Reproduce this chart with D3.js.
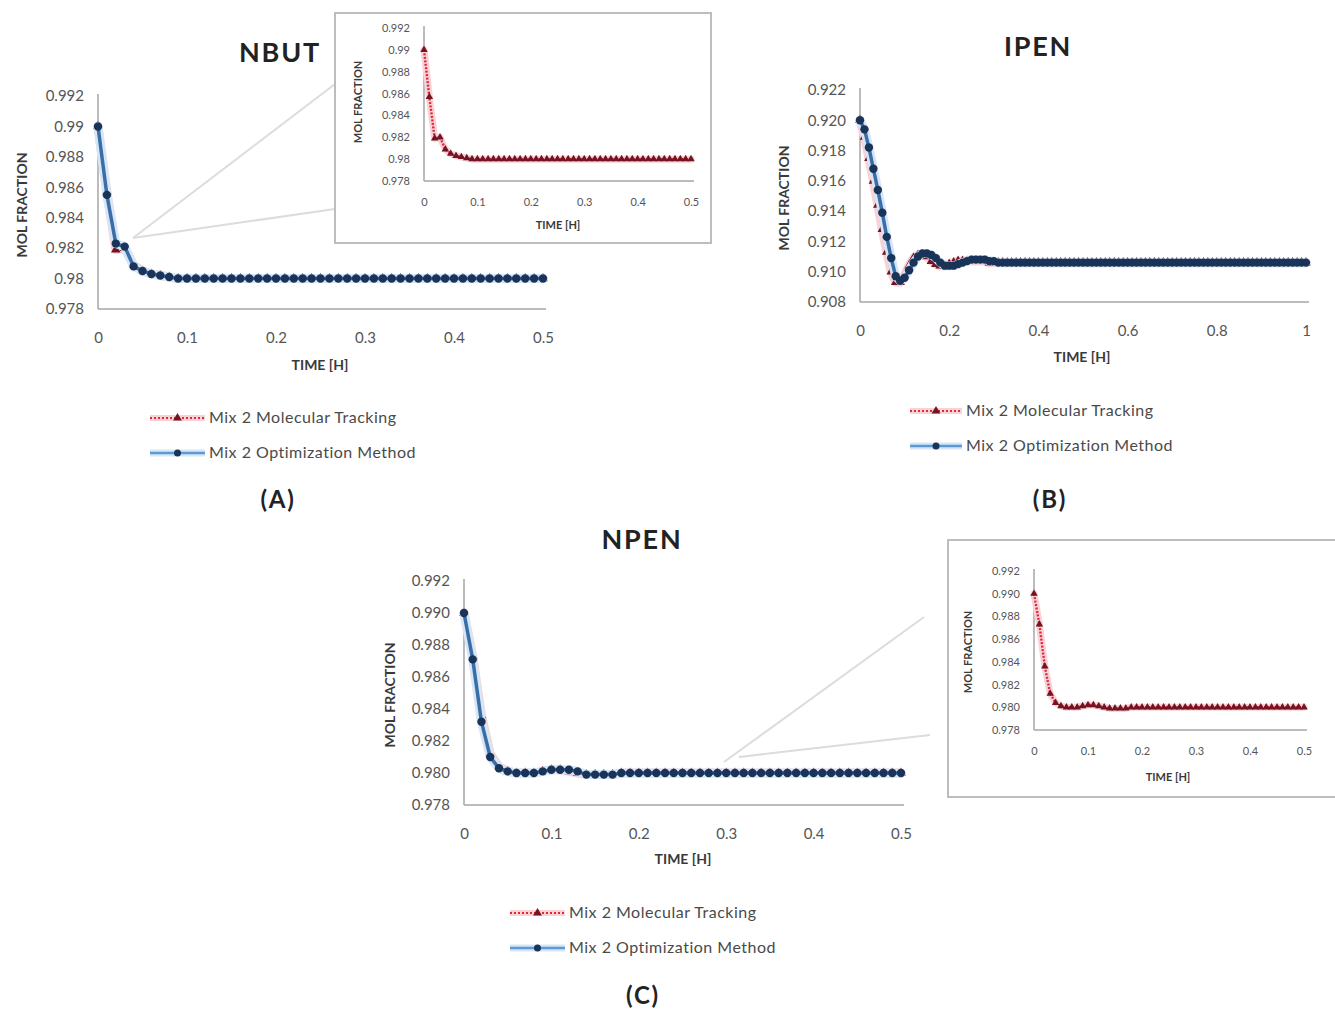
<!DOCTYPE html>
<html>
<head>
<meta charset="utf-8">
<script src="https://cdn.jsdelivr.net/npm/d3@7"></script>
<style>
  body { margin: 0; background: #fff; }
  svg { display: block; }
</style>
</head>
<body>
<div id="chart"></div>
<script>
/* Sample times (hours) */
var timesHalf = [0, 0.01, 0.02, 0.03, 0.04, 0.05, 0.06, 0.07, 0.08, 0.09,
  0.10, 0.11, 0.12, 0.13, 0.14, 0.15, 0.16, 0.17, 0.18, 0.19,
  0.20, 0.21, 0.22, 0.23, 0.24, 0.25, 0.26, 0.27, 0.28, 0.29,
  0.30, 0.31, 0.32, 0.33, 0.34, 0.35, 0.36, 0.37, 0.38, 0.39,
  0.40, 0.41, 0.42, 0.43, 0.44, 0.45, 0.46, 0.47, 0.48, 0.49, 0.50];

var timesOne = [0, 0.01, 0.02, 0.03, 0.04, 0.05, 0.06, 0.07, 0.08, 0.09,
  0.10, 0.11, 0.12, 0.13, 0.14, 0.15, 0.16, 0.17, 0.18, 0.19,
  0.20, 0.21, 0.22, 0.23, 0.24, 0.25, 0.26, 0.27, 0.28, 0.29,
  0.30, 0.31, 0.32, 0.33, 0.34, 0.35, 0.36, 0.37, 0.38, 0.39,
  0.40, 0.41, 0.42, 0.43, 0.44, 0.45, 0.46, 0.47, 0.48, 0.49,
  0.50, 0.51, 0.52, 0.53, 0.54, 0.55, 0.56, 0.57, 0.58, 0.59,
  0.60, 0.61, 0.62, 0.63, 0.64, 0.65, 0.66, 0.67, 0.68, 0.69,
  0.70, 0.71, 0.72, 0.73, 0.74, 0.75, 0.76, 0.77, 0.78, 0.79,
  0.80, 0.81, 0.82, 0.83, 0.84, 0.85, 0.86, 0.87, 0.88, 0.89,
  0.90, 0.91, 0.92, 0.93, 0.94, 0.95, 0.96, 0.97, 0.98, 0.99, 1.00];

/* NBUT - mol fraction */
var nbutTracking = [0.9900, 0.9857, 0.9819, 0.9820, 0.9809, 0.9805, 0.9803, 0.9802, 0.9801, 0.9800,
  0.9800, 0.9800, 0.9800, 0.9800, 0.9800, 0.9800, 0.9800, 0.9800, 0.9800, 0.9800,
  0.9800, 0.9800, 0.9800, 0.9800, 0.9800, 0.9800, 0.9800, 0.9800, 0.9800, 0.9800,
  0.9800, 0.9800, 0.9800, 0.9800, 0.9800, 0.9800, 0.9800, 0.9800, 0.9800, 0.9800,
  0.9800, 0.9800, 0.9800, 0.9800, 0.9800, 0.9800, 0.9800, 0.9800, 0.9800, 0.9800, 0.9800];
var nbutOptimization = [0.9900, 0.9855, 0.9823, 0.9821, 0.9808, 0.9805, 0.9803, 0.9802, 0.9801, 0.9800,
  0.9800, 0.9800, 0.9800, 0.9800, 0.9800, 0.9800, 0.9800, 0.9800, 0.9800, 0.9800,
  0.9800, 0.9800, 0.9800, 0.9800, 0.9800, 0.9800, 0.9800, 0.9800, 0.9800, 0.9800,
  0.9800, 0.9800, 0.9800, 0.9800, 0.9800, 0.9800, 0.9800, 0.9800, 0.9800, 0.9800,
  0.9800, 0.9800, 0.9800, 0.9800, 0.9800, 0.9800, 0.9800, 0.9800, 0.9800, 0.9800, 0.9800];

/* IPEN - mol fraction */
var ipenTracking = [0.9200, 0.9189, 0.9175, 0.9160, 0.9144, 0.9128, 0.9113, 0.9100, 0.9093, 0.9093,
  0.9098, 0.9104, 0.9109, 0.9111, 0.9111, 0.9110, 0.9107, 0.9105, 0.9104, 0.9104,
  0.9105, 0.9106, 0.9107, 0.9107, 0.9107, 0.9107, 0.9107, 0.9107, 0.9107, 0.9106,
  0.9106, 0.9106, 0.9106, 0.9106, 0.9106, 0.9106, 0.9106, 0.9106, 0.9106, 0.9106,
  0.9106, 0.9106, 0.9106, 0.9106, 0.9106, 0.9106, 0.9106, 0.9106, 0.9106, 0.9106,
  0.9106, 0.9106, 0.9106, 0.9106, 0.9106, 0.9106, 0.9106, 0.9106, 0.9106, 0.9106,
  0.9106, 0.9106, 0.9106, 0.9106, 0.9106, 0.9106, 0.9106, 0.9106, 0.9106, 0.9106,
  0.9106, 0.9106, 0.9106, 0.9106, 0.9106, 0.9106, 0.9106, 0.9106, 0.9106, 0.9106,
  0.9106, 0.9106, 0.9106, 0.9106, 0.9106, 0.9106, 0.9106, 0.9106, 0.9106, 0.9106,
  0.9106, 0.9106, 0.9106, 0.9106, 0.9106, 0.9106, 0.9106, 0.9106, 0.9106, 0.9106, 0.9106];
var ipenOptimization = [0.9200, 0.9194, 0.9182, 0.9168, 0.9154, 0.9139, 0.9123, 0.9109, 0.9097, 0.9094,
  0.9096, 0.9101, 0.9106, 0.9110, 0.9112, 0.9112, 0.9111, 0.9109, 0.9106, 0.9104,
  0.9104, 0.9104, 0.9105, 0.9106, 0.9107, 0.9108, 0.9108, 0.9108, 0.9108, 0.9107,
  0.9107, 0.9106, 0.9106, 0.9106, 0.9106, 0.9106, 0.9106, 0.9106, 0.9106, 0.9106,
  0.9106, 0.9106, 0.9106, 0.9106, 0.9106, 0.9106, 0.9106, 0.9106, 0.9106, 0.9106,
  0.9106, 0.9106, 0.9106, 0.9106, 0.9106, 0.9106, 0.9106, 0.9106, 0.9106, 0.9106,
  0.9106, 0.9106, 0.9106, 0.9106, 0.9106, 0.9106, 0.9106, 0.9106, 0.9106, 0.9106,
  0.9106, 0.9106, 0.9106, 0.9106, 0.9106, 0.9106, 0.9106, 0.9106, 0.9106, 0.9106,
  0.9106, 0.9106, 0.9106, 0.9106, 0.9106, 0.9106, 0.9106, 0.9106, 0.9106, 0.9106,
  0.9106, 0.9106, 0.9106, 0.9106, 0.9106, 0.9106, 0.9106, 0.9106, 0.9106, 0.9106, 0.9106];

/* NPEN - mol fraction */
var npenTracking = [0.9900, 0.9873, 0.9836, 0.9812, 0.9804, 0.9801, 0.9800, 0.9800, 0.9800, 0.9801,
  0.9802, 0.9802, 0.9801, 0.9800, 0.9799, 0.9799, 0.9799, 0.9799, 0.9800, 0.9800,
  0.9800, 0.9800, 0.9800, 0.9800, 0.9800, 0.9800, 0.9800, 0.9800, 0.9800, 0.9800,
  0.9800, 0.9800, 0.9800, 0.9800, 0.9800, 0.9800, 0.9800, 0.9800, 0.9800, 0.9800,
  0.9800, 0.9800, 0.9800, 0.9800, 0.9800, 0.9800, 0.9800, 0.9800, 0.9800, 0.9800, 0.9800];
var npenOptimization = [0.9900, 0.9871, 0.9832, 0.9810, 0.9803, 0.9801, 0.9800, 0.9800, 0.9800, 0.9801,
  0.9802, 0.9802, 0.9802, 0.9801, 0.9799, 0.9799, 0.9799, 0.9799, 0.9800, 0.9800,
  0.9800, 0.9800, 0.9800, 0.9800, 0.9800, 0.9800, 0.9800, 0.9800, 0.9800, 0.9800,
  0.9800, 0.9800, 0.9800, 0.9800, 0.9800, 0.9800, 0.9800, 0.9800, 0.9800, 0.9800,
  0.9800, 0.9800, 0.9800, 0.9800, 0.9800, 0.9800, 0.9800, 0.9800, 0.9800, 0.9800, 0.9800];

/* Tick values and labels */
var yTicksHigh = [0.978, 0.980, 0.982, 0.984, 0.986, 0.988, 0.990, 0.992];
var yLabelsNbut = ["0.978", "0.98", "0.982", "0.984", "0.986", "0.988", "0.99", "0.992"];
var yLabelsNpen = ["0.978", "0.980", "0.982", "0.984", "0.986", "0.988", "0.990", "0.992"];
var yTicksIpen = [0.908, 0.910, 0.912, 0.914, 0.916, 0.918, 0.920, 0.922];
var yLabelsIpen = ["0.908", "0.910", "0.912", "0.914", "0.916", "0.918", "0.920", "0.922"];
var xTicksHalf = [0, 0.1, 0.2, 0.3, 0.4, 0.5];
var xLabelsHalf = ["0", "0.1", "0.2", "0.3", "0.4", "0.5"];
var xTicksOne = [0, 0.2, 0.4, 0.6, 0.8, 1];
var xLabelsOne = ["0", "0.2", "0.4", "0.6", "0.8", "1"];

var seriesNames = ["Mix 2 Molecular Tracking", "Mix 2 Optimization Method"];

var config = {
    font: "Lato, 'Open Sans', sans-serif",
    colors: {
        axis: '#a6a6a6',
        tick: '#555',
        title: '#3a3a3a',
        blueLine: '#3a6ea8',
        legendBlue: '#5b9bd5',
        blueHalo: '#d6e6f5',
        blueDot: '#1a3358',
        redLine: '#e0283a',
        redHalo: '#f7d3d8',
        redDot: '#741322',
        zoomLine: '#dcdcdc',
        box: '#bdbdbd'
    }
};

var svg = d3.select('#chart').append('svg')
    .attr('width', 1335)
    .attr('height', 1010);

// one chart frame: axes, tick labels, axis titles, series
function drawPlot(p) {
    var x = d3.scaleLinear().domain(p.xDomain).range([p.left, p.right]);
    var y = d3.scaleLinear().domain(p.yDomain).range([p.bottom, p.top]);
    var g = svg.append('g');

    var xAxis = d3.axisBottom(x).tickValues(p.xTicks).tickSize(0).tickPadding(p.xPad)
        .tickFormat(function (d, i) { return p.xLabels[i]; });
    var yAxis = d3.axisLeft(y).tickValues(p.yTicks).tickSize(0).tickPadding(p.yPad)
        .tickFormat(function (d, i) { return p.yLabels[i]; });

    var gx = g.append('g').attr('transform', 'translate(0,' + p.bottom + ')').call(xAxis);
    var gy = g.append('g').attr('transform', 'translate(' + p.left + ',0)').call(yAxis);
    [gx, gy].forEach(function (a) {
        a.select('.domain').attr('stroke', config.colors.axis).attr('stroke-width', p.axisWidth);
        a.selectAll('text')
            .attr('font-family', config.font)
            .attr('font-size', p.tickSize)
            .attr('fill', config.colors.tick);
    });
    gx.select('.domain').attr('d', 'M' + p.left + ',0H' + (p.right + 3));
    gy.select('.domain').attr('d', 'M0,' + (p.top - 2) + 'V' + p.bottom);

    g.append('text')
        .attr('x', p.xTitle[0]).attr('y', p.xTitle[1])
        .attr('text-anchor', 'middle')
        .attr('font-family', config.font).attr('font-weight', 'bold')
        .attr('font-size', p.axisTitleSize)
        .attr('fill', config.colors.title)
        .text('TIME [H]');
    g.append('text')
        .attr('transform', 'translate(' + p.yTitle[0] + ',' + p.yTitle[1] + ') rotate(-90)')
        .attr('text-anchor', 'middle')
        .attr('font-family', config.font).attr('font-weight', 'bold')
        .attr('font-size', p.axisTitleSize)
        .attr('fill', config.colors.title)
        .text('MOL FRACTION');

    p.series.forEach(function (s) {
        var pts = s.values.map(function (v, i) { return [s.times[i], v]; });
        var line = d3.line().x(function (d) { return x(d[0]); }).y(function (d) { return y(d[1]); });
        // soft halo under each series, like the blurred original
        g.append('path')
            .datum(pts)
            .attr('d', line)
            .attr('fill', 'none')
            .attr('stroke', s.kind === 'red' ? config.colors.redHalo : config.colors.blueHalo)
            .attr('stroke-width', p.haloWidth)
            .attr('stroke-linejoin', 'round')
            .attr('stroke-linecap', 'round');
        var path = g.append('path')
            .datum(pts)
            .attr('d', line)
            .attr('fill', 'none');
        if (s.kind === 'red') {
            path.attr('stroke', config.colors.redLine)
                .attr('stroke-width', p.redWidth)
                .attr('stroke-dasharray', '2,1.5');
            g.selectAll(null).data(pts).enter().append('path')
                .attr('d', d3.symbol(d3.symbolTriangle).size(p.triSize))
                .attr('transform', function (d) { return 'translate(' + x(d[0]) + ',' + y(d[1]) + ')'; })
                .attr('fill', config.colors.redDot);
        } else {
            path.attr('stroke', config.colors.blueLine)
                .attr('stroke-width', p.blueWidth);
            g.selectAll(null).data(pts).enter().append('circle')
                .attr('cx', function (d) { return x(d[0]); })
                .attr('cy', function (d) { return y(d[1]); })
                .attr('r', p.dotR)
                .attr('fill', config.colors.blueDot);
        }
    });
}

function drawTitle(text, cx, cy, size) {
    svg.append('text')
        .attr('x', cx).attr('y', cy)
        .attr('text-anchor', 'middle')
        .attr('font-family', config.font).attr('font-weight', 'bold')
        .attr('font-size', size)
        .attr('letter-spacing', 1.8)
        .attr('fill', '#222')
        .text(text);
}

function drawLegend(x0, x1, y0, gap) {
    var g = svg.append('g');
    seriesNames.forEach(function (name, i) {
        var yy = y0 + i * gap;
        var mid = (x0 + x1) / 2;
        if (i === 0) {
            g.append('line').attr('x1', x0).attr('x2', x1).attr('y1', yy).attr('y2', yy)
                .attr('stroke', config.colors.redHalo).attr('stroke-width', 6);
            g.append('line').attr('x1', x0).attr('x2', x1).attr('y1', yy).attr('y2', yy)
                .attr('stroke', config.colors.redLine).attr('stroke-width', 2)
                .attr('stroke-dasharray', '2,2');
            g.append('path')
                .attr('d', d3.symbol(d3.symbolTriangle).size(34))
                .attr('transform', 'translate(' + mid + ',' + yy + ')')
                .attr('fill', config.colors.redDot);
        } else {
            g.append('line').attr('x1', x0).attr('x2', x1).attr('y1', yy).attr('y2', yy)
                .attr('stroke', config.colors.blueHalo).attr('stroke-width', 7);
            g.append('line').attr('x1', x0).attr('x2', x1).attr('y1', yy).attr('y2', yy)
                .attr('stroke', config.colors.legendBlue).attr('stroke-width', 2.5);
            g.append('circle').attr('cx', mid).attr('cy', yy).attr('r', 3.5)
                .attr('fill', config.colors.blueDot);
        }
        g.append('text')
            .attr('x', x1 + 4).attr('y', yy + 5)
            .attr('font-family', config.font)
            .attr('font-size', 16)
            .attr('letter-spacing', 0.5)
            .attr('fill', '#4a4a4a')
            .text(name);
    });
}

function drawZoomLines(from, toA, toB) {
    [toA, toB].forEach(function (t, i) {
        svg.append('line')
            .attr('x1', from[i][0]).attr('y1', from[i][1])
            .attr('x2', t[0]).attr('y2', t[1])
            .attr('stroke', config.colors.zoomLine).attr('stroke-width', 2);
    });
}

function drawBox(x, y, w, h) {
    svg.append('rect')
        .attr('x', x).attr('y', y).attr('width', w).attr('height', h)
        .attr('fill', '#fff')
        .attr('stroke', config.colors.box).attr('stroke-width', 2);
}

var mainStyle = {
    tickSize: 15, axisTitleSize: 14, axisWidth: 1.5,
    xPad: 23, yPad: 14,
    haloWidth: 9, blueWidth: 3.5, dotR: 4.2, redWidth: 2.2, triSize: 40
};
var insetStyle = {
    tickSize: 11, axisTitleSize: 11, axisWidth: 1.5,
    xPad: 17, yPad: 14,
    haloWidth: 7, blueWidth: 2, dotR: 2.6, redWidth: 2.4, triSize: 24
};

// ---- (A) NBUT ----
drawZoomLines([[133, 238], [133, 238]], [335, 84], [335, 209]);
drawTitle('NBUT', 280, 62, 27);
drawPlot(Object.assign({}, mainStyle, {
    left: 98, right: 543, top: 96, bottom: 309,
    xDomain: [0, 0.5], yDomain: [0.978, 0.992],
    xTicks: xTicksHalf, xLabels: xLabelsHalf,
    yTicks: yTicksHigh, yLabels: yLabelsNbut,
    xTitle: [320, 370], yTitle: [27, 205],
    series: [
        { kind: 'red', times: timesHalf, values: nbutTracking },
        { kind: 'blue', times: timesHalf, values: nbutOptimization }
    ]
}));
drawBox(335, 13, 376, 230);
drawPlot(Object.assign({}, insetStyle, {
    left: 424, right: 691, top: 28, bottom: 181,
    xDomain: [0, 0.5], yDomain: [0.978, 0.992],
    xTicks: xTicksHalf, xLabels: xLabelsHalf,
    yTicks: yTicksHigh, yLabels: yLabelsNbut,
    xTitle: [558, 229], yTitle: [362, 102],
    series: [{ kind: 'red', times: timesHalf, values: nbutTracking }]
}));
drawLegend(150, 205, 418, 35);
drawTitle('(A)', 278, 508, 24);

// ---- (B) IPEN ----
drawTitle('IPEN', 1038, 56, 27);
drawPlot(Object.assign({}, mainStyle, {
    left: 860, right: 1306, top: 90, bottom: 302,
    xDomain: [0, 1], yDomain: [0.908, 0.922],
    xTicks: xTicksOne, xLabels: xLabelsOne,
    yTicks: yTicksIpen, yLabels: yLabelsIpen,
    xTitle: [1082, 362], yTitle: [789, 198],
    series: [
        { kind: 'red', times: timesOne, values: ipenTracking },
        { kind: 'blue', times: timesOne, values: ipenOptimization }
    ]
}));
drawLegend(910, 962, 411, 35);
drawTitle('(B)', 1050, 508, 24);

// ---- (C) NPEN ----
drawZoomLines([[724, 762], [739, 757]], [924, 617], [930, 735]);
drawTitle('NPEN', 642, 549, 27);
drawPlot(Object.assign({}, mainStyle, {
    left: 464, right: 901, top: 581, bottom: 805,
    xDomain: [0, 0.5], yDomain: [0.978, 0.992],
    xTicks: xTicksHalf, xLabels: xLabelsHalf,
    yTicks: yTicksHigh, yLabels: yLabelsNpen,
    xTitle: [683, 864], yTitle: [395, 695],
    series: [
        { kind: 'red', times: timesHalf, values: npenTracking },
        { kind: 'blue', times: timesHalf, values: npenOptimization }
    ]
}));
drawBox(948, 540, 400, 257);
drawPlot(Object.assign({}, insetStyle, {
    left: 1034, right: 1304, top: 571, bottom: 730,
    xDomain: [0, 0.5], yDomain: [0.978, 0.992],
    xTicks: xTicksHalf, xLabels: xLabelsHalf,
    yTicks: yTicksHigh, yLabels: yLabelsNpen,
    xTitle: [1168, 781], yTitle: [972, 652],
    series: [{ kind: 'red', times: timesHalf, values: npenTracking }]
}));
drawLegend(510, 565, 913, 35);
drawTitle('(C)', 643, 1004, 24);
</script>
</body>
</html>
